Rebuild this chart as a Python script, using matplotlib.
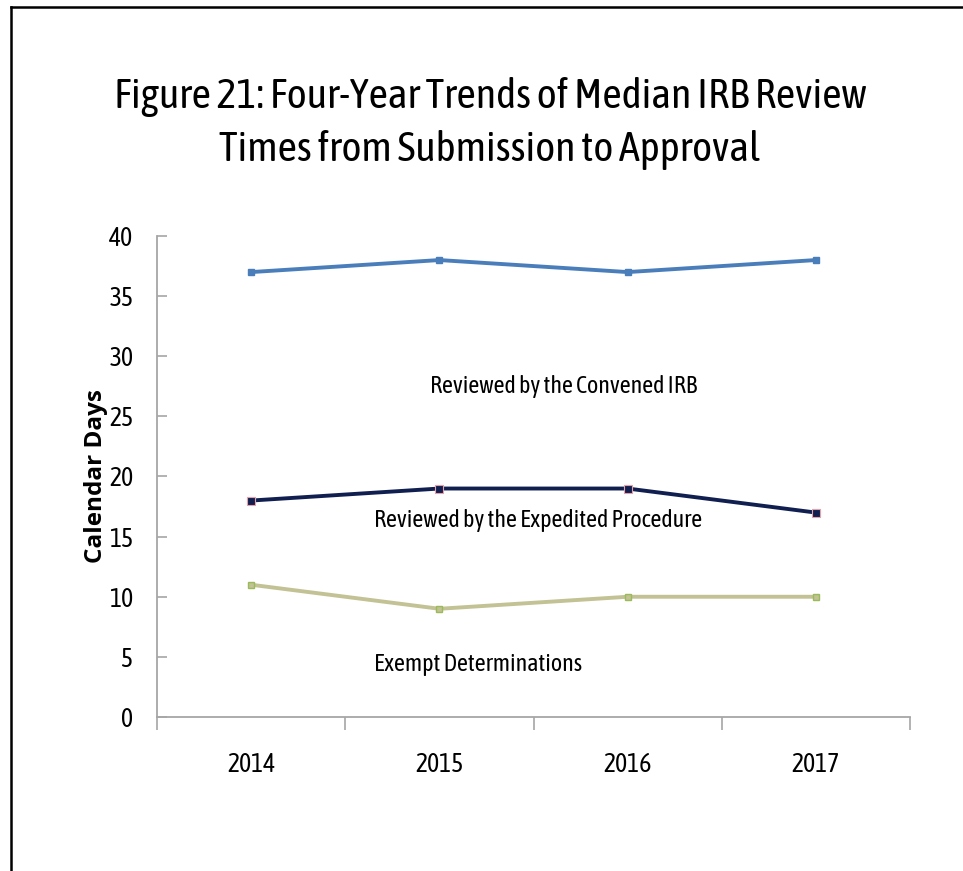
import matplotlib
matplotlib.use('Agg')
import matplotlib.pyplot as plt
from matplotlib.lines import Line2D

# narrow humanist face first, listed families as fallback
plt.rcParams['font.family'] = ['Asap Condensed', 'Open Sans', 'DejaVu Sans']

years = ['2014', '2015', '2016', '2017']
convened = [37, 38, 37, 38]
expedited = [18, 19, 19, 17]
exempt = [11, 9, 10, 10]

fig = plt.figure(figsize=(9.63, 8.71), dpi=100)
ax = fig.add_axes([157/963, 1-717/871, (910-157)/963, (717-236)/871])

x = range(len(years))
ax.plot(x, convened, color='#4a7ebb', lw=2.8, marker='s', ms=5,
        mfc='#4a7ebb', mec='#4a7ebb')
ax.plot(x, expedited, color='#101f50', lw=2.8, marker='s', ms=6,
        mfc='#101f50', mec='#e8a0a8', mew=0.8)
ax.plot(x, exempt, color='#c2c295', lw=2.8, marker='s', ms=5,
        mfc='#c2c295', mec='#9bbb59', mew=1)

ax.set_xlim(-0.5, 3.5)
ax.set_ylim(0, 40)
ax.set_yticks(range(0, 41, 5))
ax.set_xticks([-0.5, 0.5, 1.5, 2.5, 3.5])
ax.set_xticklabels([])
ax.set_xticks(list(x), minor=True)
ax.set_xticklabels(years, minor=True, fontsize=18.5)
ax.tick_params(axis='x', which='major', direction='out', length=9, color='#a6a6a6', width=1.2)
ax.tick_params(axis='x', which='minor', length=0, pad=25)
ax.tick_params(axis='y', direction='in', length=7, color='#a6a6a6', width=1.2,
               labelsize=18.5, pad=17)
for s in ['top', 'right']:
    ax.spines[s].set_visible(False)
for s in ['left', 'bottom']:
    ax.spines[s].set_color('#a6a6a6')
    ax.spines[s].set_linewidth(1.3)

ax.set_ylabel('Calendar Days', fontsize=17.5, fontweight='bold',
              family=['Open Sans', 'DejaVu Sans'], labelpad=1)

# series labels, left edges
ax.text(0.95, 27.5, 'Reviewed by the Convened IRB', fontsize=17.3, va='center', ha='left')
ax.text(0.653, 16.3, 'Reviewed by the Expedited Procedure', fontsize=17.3, va='center', ha='left')
ax.text(0.653, 4.4, 'Exempt Determinations', fontsize=17.3, va='center', ha='left')

fig.text(490/963, 1-97/871, 'Figure 21: Four-Year Trends of Median IRB Review',
         fontsize=30.4, ha='center', va='center')
fig.text(490/963, 1-150/871, 'Times from Submission to Approval',
         fontsize=30.4, ha='center', va='center')

# page frame (top and left edges only)
fig.add_artist(Line2D([11/963, 1], [1-7/871, 1-7/871], color='black', lw=1.8, transform=fig.transFigure))
fig.add_artist(Line2D([11/963, 11/963], [0, 1-7/871], color='black', lw=1.8, transform=fig.transFigure))

fig.savefig('out.png', dpi=100)
